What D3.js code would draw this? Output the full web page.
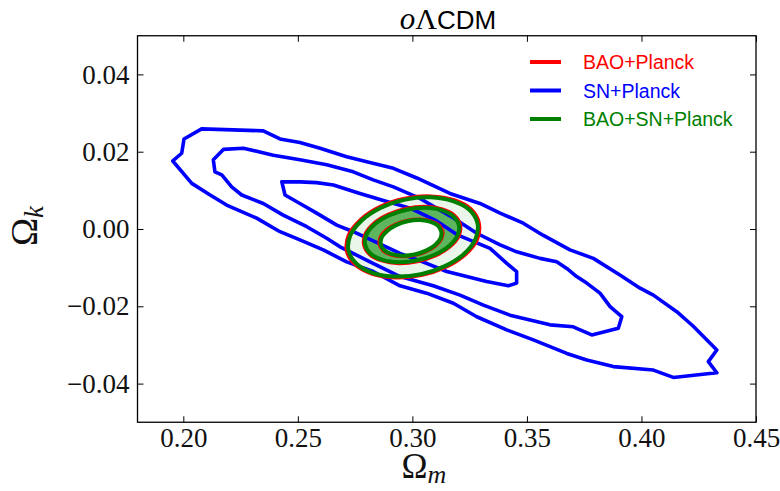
<!DOCTYPE html>
<html>
<head>
<meta charset="utf-8">
<script src="https://cdn.jsdelivr.net/npm/d3@7"></script>
<style>
  body { margin: 0; background: #fff; }
  svg { display: block; }
</style>
</head>
<body>
<svg id="chart" width="780" height="491"></svg>
<script>
// Axis ranges and ticks
const xDomain = [0.18, 0.45];
const yDomain = [-0.05, 0.05];
const xTicks = [0.20, 0.25, 0.30, 0.35, 0.40, 0.45];
const yTicks = [-0.04, -0.02, 0.00, 0.02, 0.04];

// Legend entries
const legendLabels = ["BAO+Planck", "SN+Planck", "BAO+SN+Planck"];
const legendColors = ["#ff0000", "#0000ff", "#008000"];

// SN+Planck confidence contours, [Omega_m, Omega_k]
const snOuter = [
  [0.1954, 0.0176], [0.1993, 0.0196], [0.2003, 0.0233], [0.2080, 0.0259],
  [0.2349, 0.0254], [0.2422, 0.0233], [0.2509, 0.0224], [0.2597, 0.0209],
  [0.2713, 0.0187], [0.2801, 0.0174], [0.2917, 0.0157], [0.3019, 0.0132],
  [0.3164, 0.0092], [0.3295, 0.0066], [0.3383, 0.0041], [0.3484, 0.0015],
  [0.3570, -0.0016], [0.3688, -0.0054], [0.3790, -0.0076], [0.3906, -0.0119],
  [0.3994, -0.0153], [0.4052, -0.0171], [0.4154, -0.0214], [0.4225, -0.0251],
  [0.4329, -0.0313], [0.4292, -0.0343], [0.4329, -0.0372], [0.4139, -0.0384],
  [0.4052, -0.0365], [0.3877, -0.0356], [0.3761, -0.0339], [0.3674, -0.0322],
  [0.3528, -0.0287], [0.3412, -0.0261], [0.3281, -0.0227], [0.3179, -0.0192],
  [0.3062, -0.0166], [0.2946, -0.0147], [0.2829, -0.0110], [0.2713, -0.0085],
  [0.2611, -0.0054], [0.2509, -0.0028], [0.2422, -0.0007], [0.2320, 0.0028],
  [0.2189, 0.0062], [0.2117, 0.0088], [0.2037, 0.0118]
];
const snMiddle = [
  [0.2175, 0.0206], [0.2262, 0.0209], [0.2393, 0.0191], [0.2509, 0.0179],
  [0.2626, 0.0166], [0.2742, 0.0148], [0.2829, 0.0127], [0.2917, 0.0109],
  [0.3033, 0.0079], [0.3164, 0.0034], [0.3281, -0.0011], [0.3383, -0.0041],
  [0.3455, -0.0059], [0.3557, -0.0076], [0.3630, -0.0085], [0.3674, -0.0102],
  [0.3717, -0.0123], [0.3761, -0.0140], [0.3819, -0.0166], [0.3863, -0.0201],
  [0.3914, -0.0227], [0.3899, -0.0257], [0.3783, -0.0274], [0.3702, -0.0253],
  [0.3601, -0.0248], [0.3426, -0.0223], [0.3310, -0.0197], [0.3208, -0.0171],
  [0.3091, -0.0147], [0.2946, -0.0123], [0.2815, -0.0085], [0.2684, -0.0046],
  [0.2626, -0.0024], [0.2539, 0.0006], [0.2436, 0.0036], [0.2349, 0.0066],
  [0.2255, 0.0088], [0.2211, 0.0109], [0.2168, 0.0140], [0.2138, 0.0148],
  [0.2131, 0.0179]
];
const snInner = [
  [0.2430, 0.0122], [0.2509, 0.0122], [0.2582, 0.0120], [0.2655, 0.0114],
  [0.2771, 0.0092], [0.2888, 0.0071], [0.2990, 0.0054], [0.3099, 0.0023],
  [0.3199, -0.0016], [0.3339, -0.0050], [0.3412, -0.0089], [0.3455, -0.0110],
  [0.3455, -0.0140], [0.3419, -0.0147], [0.3324, -0.0136], [0.3237, -0.0123],
  [0.3150, -0.0110], [0.3062, -0.0089], [0.2946, -0.0063], [0.2841, -0.0034],
  [0.2742, -0.0007], [0.2670, 0.0010], [0.2582, 0.0041], [0.2509, 0.0066],
  [0.2444, 0.0088]
];

// BAO+Planck contours
const baoOuter = [
  [0.3291, 0.0016], [0.3284, -0.0026], [0.3232, -0.0066], [0.3146, -0.0099],
  [0.3039, -0.0120], [0.2925, -0.0126], [0.2822, -0.0116], [0.2749, -0.0092],
  [0.2713, -0.0057], [0.2721, -0.0016], [0.2773, 0.0024], [0.2859, 0.0058],
  [0.2966, 0.0079], [0.3081, 0.0085], [0.3183, 0.0075], [0.3257, 0.0051]
];
const baoMiddle = [
  [0.3209, 0.0011], [0.3203, -0.0018], [0.3164, -0.0046], [0.3101, -0.0069],
  [0.3022, -0.0084], [0.2940, -0.0089], [0.2866, -0.0082], [0.2812, -0.0065],
  [0.2788, -0.0041], [0.2794, -0.0013], [0.2832, 0.0015], [0.2895, 0.0038],
  [0.2975, 0.0053], [0.3057, 0.0058], [0.3131, 0.0051], [0.3184, 0.0035]
];
const baoInner = [
  [0.3132, -0.0006], [0.3127, -0.0025], [0.3102, -0.0043], [0.3061, -0.0058],
  [0.3009, -0.0068], [0.2955, -0.0071], [0.2907, -0.0067], [0.2872, -0.0056],
  [0.2856, -0.0040], [0.2860, -0.0021], [0.2885, -0.0003], [0.2926, 0.0012],
  [0.2978, 0.0022], [0.3032, 0.0025], [0.3079, 0.0021], [0.3116, 0.0010]
];

// BAO+SN+Planck contours
const allOuter = [
  [0.3284, 0.0015], [0.3276, -0.0025], [0.3226, -0.0064], [0.3142, -0.0096],
  [0.3037, -0.0117], [0.2927, -0.0123], [0.2828, -0.0114], [0.2756, -0.0090],
  [0.2721, -0.0056], [0.2729, -0.0017], [0.2779, 0.0022], [0.2863, 0.0055],
  [0.2968, 0.0076], [0.3079, 0.0082], [0.3177, 0.0072], [0.3250, 0.0049]
];
const allMiddle = [
  [0.3203, 0.0010], [0.3197, -0.0017], [0.3160, -0.0044], [0.3099, -0.0066],
  [0.3022, -0.0081], [0.2942, -0.0086], [0.2870, -0.0080], [0.2818, -0.0064],
  [0.2794, -0.0041], [0.2800, -0.0014], [0.2837, 0.0013], [0.2898, 0.0035],
  [0.2975, 0.0050], [0.3055, 0.0055], [0.3127, 0.0049], [0.3178, 0.0033]
];
const allInner = [
  [0.3126, -0.0007], [0.3122, -0.0025], [0.3098, -0.0042], [0.3059, -0.0056],
  [0.3009, -0.0066], [0.2957, -0.0069], [0.2911, -0.0065], [0.2877, -0.0055],
  [0.2862, -0.0040], [0.2866, -0.0022], [0.2890, -0.0005], [0.2929, 0.0010],
  [0.2979, 0.0020], [0.3031, 0.0023], [0.3076, 0.0019], [0.3111, 0.0009]
];

const svg = d3.select("#chart");
const plotLeft = 137.5, plotRight = 756, plotTop = 35.75, plotBottom = 422.25;

const x = d3.scaleLinear().domain(xDomain).range([plotLeft, plotRight]);
const y = d3.scaleLinear().domain(yDomain).range([plotBottom, plotTop]);

const serif = "'Liberation Serif', 'DejaVu Serif', serif";
const sans = "'Liberation Sans', Arial, sans-serif";

svg.append("clipPath").attr("id", "plotclip")
  .append("rect").attr("x", plotLeft).attr("y", plotTop)
  .attr("width", plotRight - plotLeft).attr("height", plotBottom - plotTop);
const plot = svg.append("g").attr("clip-path", "url(#plotclip)");

const smooth = d3.line().x(d => x(d[0])).y(d => y(d[1])).curve(d3.curveCatmullRomClosed);
const jagged = d3.line().x(d => x(d[0])).y(d => y(d[1])).curve(d3.curveLinearClosed);

// Filled confidence regions of the combined fit
plot.append("path")
  .attr("d", smooth(allOuter) + smooth(allMiddle))
  .attr("fill", "#ebf6eb").attr("fill-rule", "evenodd");
plot.append("path")
  .attr("d", smooth(allMiddle) + smooth(allInner))
  .attr("fill", "#5db55d").attr("fill-rule", "evenodd");

// SN+Planck contour lines
[snOuter, snMiddle, snInner].forEach(c => {
  plot.append("path").attr("d", jagged(c))
    .attr("fill", "none").attr("stroke", "#0000ff")
    .attr("stroke-width", 3.6).attr("stroke-linejoin", "round");
});

// BAO+Planck contour lines
[baoOuter, baoMiddle, baoInner].forEach(c => {
  plot.append("path").attr("d", smooth(c))
    .attr("fill", "none").attr("stroke", "#ff0000")
    .attr("stroke-width", 3.5);
});

// BAO+SN+Planck contour lines
[allOuter, allMiddle, allInner].forEach(c => {
  plot.append("path").attr("d", smooth(c))
    .attr("fill", "none").attr("stroke", "#008000")
    .attr("stroke-width", 4);
});

// Axes: ticks point inward on all four sides
const fmtX = d3.format(".2f");
const fmtY = v => (v < 0 ? "\u2212" : "") + d3.format(".2f")(Math.abs(v));

const gx = svg.append("g").attr("transform", `translate(0,${plotBottom})`)
  .call(d3.axisBottom(x).tickValues(xTicks).tickFormat(fmtX)
    .tickSizeInner(-6).tickSizeOuter(0).tickPadding(6));
const gy = svg.append("g").attr("transform", `translate(${plotLeft},0)`)
  .call(d3.axisLeft(y).tickValues(yTicks).tickFormat(fmtY)
    .tickSizeInner(-6).tickSizeOuter(0).tickPadding(8));
const gt = svg.append("g").attr("transform", `translate(0,${plotTop})`)
  .call(d3.axisTop(x).tickValues(xTicks).tickFormat("")
    .tickSizeInner(-6).tickSizeOuter(0));
const gr = svg.append("g").attr("transform", `translate(${plotRight},0)`)
  .call(d3.axisRight(y).tickValues(yTicks).tickFormat("")
    .tickSizeInner(-6).tickSizeOuter(0));

[gx, gy, gt, gr].forEach(g => {
  g.select(".domain").remove();
  g.selectAll(".tick line").attr("stroke", "#000").attr("stroke-width", 1);
  g.selectAll(".tick text").attr("font-family", serif).attr("font-size", 27)
    .attr("fill", "#111");
});

svg.append("rect")
  .attr("x", plotLeft).attr("y", plotTop)
  .attr("width", plotRight - plotLeft).attr("height", plotBottom - plotTop)
  .attr("fill", "none").attr("stroke", "#000").attr("stroke-width", 1.3);

// Axis titles
const xl = svg.append("text")
  .attr("x", 424).attr("y", 478)
  .attr("text-anchor", "middle").attr("font-family", serif).attr("fill", "#111");
xl.append("tspan").attr("font-size", 35).text("\u03A9");
xl.append("tspan").attr("font-size", 26).attr("font-style", "italic").attr("dy", 5).text("m");

const yl = svg.append("text")
  .attr("transform", "translate(37,226) rotate(-90)")
  .attr("text-anchor", "middle").attr("font-family", serif).attr("fill", "#111");
yl.append("tspan").attr("font-size", 38).text("\u03A9");
yl.append("tspan").attr("font-size", 27).attr("font-style", "italic").attr("dy", 6).text("k");

// Title
const title = svg.append("text")
  .attr("x", 448).attr("y", 29).attr("text-anchor", "middle").attr("fill", "#000");
title.append("tspan").attr("font-family", serif).attr("font-style", "italic")
  .attr("font-size", 31).text("o");
title.append("tspan").attr("font-family", serif).attr("font-size", 30).text("\u039B");
title.append("tspan").attr("font-family", sans).attr("font-size", 26).text("CDM");

// Legend
const legendY = [62, 90.5, 119];
const lg = svg.append("g");
legendLabels.forEach((label, i) => {
  lg.append("line")
    .attr("x1", 530).attr("x2", 561)
    .attr("y1", legendY[i]).attr("y2", legendY[i])
    .attr("stroke", legendColors[i]).attr("stroke-width", 4);
  lg.append("text")
    .attr("x", 583).attr("y", legendY[i] + 7)
    .attr("font-family", sans).attr("font-size", 19.5)
    .attr("fill", legendColors[i]).text(label);
});
</script>
</body>
</html>
